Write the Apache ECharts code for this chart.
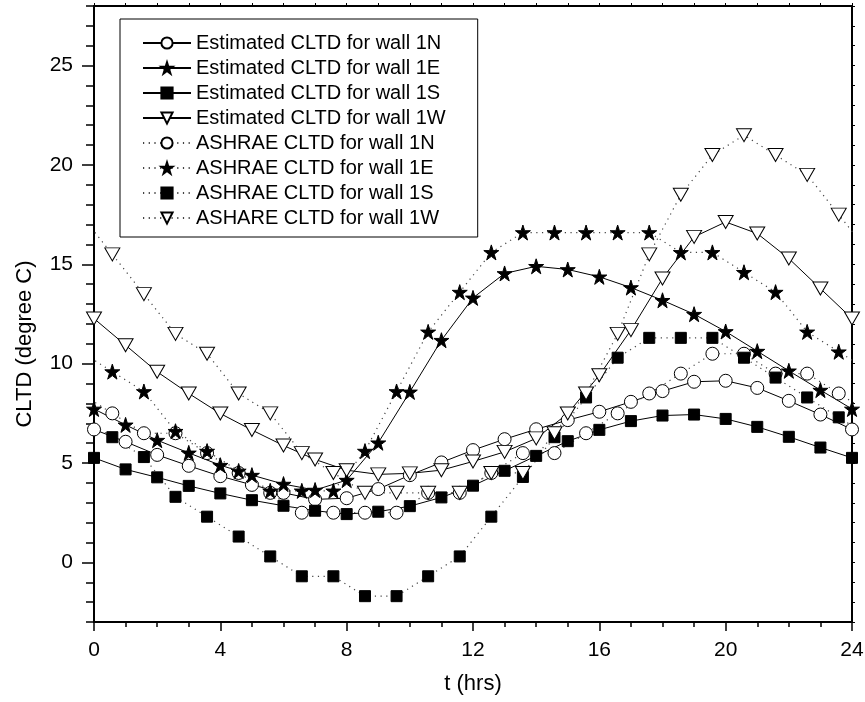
<!DOCTYPE html>
<html><head><meta charset="utf-8">
<script src="https://cdn.jsdelivr.net/npm/echarts@6/dist/echarts.min.js"></script>
<style>html,body{margin:0;padding:0;background:#fff}#c{width:865px;height:702px}</style>
</head><body><div id="c"></div>
<script>
// ---- data ----
const seriesNames = [
  'Estimated CLTD for wall 1N','Estimated CLTD for wall 1E','Estimated CLTD for wall 1S','Estimated CLTD for wall 1W',
  'ASHRAE CLTD for wall 1N','ASHRAE CLTD for wall 1E','ASHRAE CLTD for wall 1S','ASHARE CLTD for wall 1W'
];
const hoursEst = [0,1,2,3,4,5,6,7,8,9,10,11,12,13,14,15,16,17,18,19,20,21,22,23,24];
const est1N = [6.69,6.07,5.41,4.86,4.34,3.90,3.50,3.17,3.23,3.69,4.39,5.03,5.65,6.20,6.70,7.16,7.58,8.08,8.62,9.09,9.14,8.78,8.13,7.44,6.69];
const est1E = [7.72,6.92,6.15,5.51,4.89,4.39,3.94,3.64,4.14,6.02,8.58,11.18,13.31,14.54,14.90,14.74,14.37,13.83,13.19,12.49,11.62,10.63,9.64,8.67,7.72];
const est1S = [5.26,4.68,4.28,3.85,3.47,3.13,2.85,2.60,2.43,2.55,2.83,3.27,3.86,4.61,5.36,6.10,6.67,7.11,7.39,7.44,7.22,6.82,6.32,5.78,5.26];
const est1W = [12.27,10.93,9.59,8.50,7.49,6.66,5.88,5.18,4.64,4.43,4.48,4.64,5.08,5.56,6.24,7.49,9.42,11.69,14.29,16.38,17.13,16.55,15.29,13.78,12.27];

// ASHRAE points (hour 24 of previous day and hour 1 of next day included so the curve reaches the frame)
const hoursAsh = [-0.42,0.58,1.58,2.58,3.58,4.58,5.58,6.58,7.58,8.58,9.58,10.58,11.58,12.58,13.58,14.58,15.58,16.58,17.58,18.58,19.58,20.58,21.58,22.58,23.58,24.58];
const ash1N = [8.5,7.5,6.5,6.5,5.5,4.5,3.5,2.5,2.5,2.5,2.5,3.5,3.5,4.5,5.5,5.5,6.5,7.5,8.5,9.5,10.5,10.5,9.5,9.5,8.5,7.5];
const ash1E = [10.6,9.6,8.6,6.6,5.6,4.6,3.6,3.6,3.6,5.6,8.6,11.6,13.6,15.6,16.6,16.6,16.6,16.6,16.6,15.6,15.6,14.6,13.6,11.6,10.6,9.6];
const ash1S = [7.3,6.3,5.3,3.3,2.3,1.3,0.3,-0.7,-0.7,-1.7,-1.7,-0.7,0.3,2.3,4.3,6.3,8.3,10.3,11.3,11.3,11.3,10.3,9.3,8.3,7.3,6.3];
const ash1W = [17.5,15.5,13.5,11.5,10.5,8.5,7.5,5.5,4.5,3.5,3.5,3.5,3.5,4.5,4.5,6.5,8.5,11.5,15.5,18.5,20.5,21.5,20.5,19.5,17.5,15.5];

const xTicks = [0,4,8,12,16,20,24];
const yTicks = [0,5,10,15,20,25];

// ---- chart ----
const FONT = 'Liberation Sans, Arial, Helvetica, sans-serif';
const STAR = 'path://M50,2 L61.2,36.2 L97.6,36.2 L68.2,57.6 L79.4,92 L50,70.8 L20.6,92 L31.8,57.6 L2.4,36.2 L38.8,36.2 Z';
function pairs(xs, ys){ return xs.map((x,i)=>[x, ys[i]]); }
function mk(name, xs, ys, symbol, size, fill, dotted, rotate){
  return {
    name, type:'line', data: pairs(xs, ys), xAxisIndex:0, yAxisIndex:0,
    symbol, symbolSize:size, symbolRotate: rotate||0, showSymbol:true, showAllSymbol:true, clip:true,
    itemStyle:{color:fill, borderColor:'#000', borderWidth:1, opacity:1},
    lineStyle:{color: dotted ? '#444' : '#000', width: dotted ? 1.2 : 1, type: dotted ? [1.2,4.5] : 'solid'},
    emphasis:{disabled:true}, silent:true, animation:false
  };
}
const chart = echarts.init(document.getElementById('c'), null, {renderer:'canvas'});
chart.setOption({
  animation:false,
  backgroundColor:'#fff',
  textStyle:{fontFamily:FONT},
  grid:{left:94, right:13, top:6, bottom:80, outerBoundsMode:'none', containLabel:false},
  legend:{
    orient:'vertical', left:120, top:19, padding:[14,32,9,22], itemGap:5, itemWidth:48, itemHeight:14,
    borderColor:'#000', borderWidth:1, backgroundColor:'#fff', selectedMode:false,
    textStyle:{fontSize:20, color:'#000', fontFamily:FONT, lineHeight:20},
    data: seriesNames
  },
  xAxis:[
    {type:'value', position:'bottom', min:0, max:24, interval:4,
     axisLine:{show:true, onZero:false, lineStyle:{color:'#000', width:2}},
     axisTick:{show:true, inside:false, length:9, lineStyle:{color:'#000', width:1.5}},
     minorTick:{show:true, splitNumber:4, length:5, lineStyle:{color:'#000', width:1.5}},
     axisLabel:{fontSize:21, color:'#000', margin:18, fontFamily:FONT},
     splitLine:{show:false}, minorSplitLine:{show:false},
     name:'t (hrs)', nameLocation:'middle', nameGap:51,
     nameTextStyle:{fontSize:22, color:'#000', fontFamily:FONT}},
    {type:'value', position:'top', min:0, max:24, interval:1,
     axisLine:{show:true, onZero:false, lineStyle:{color:'#000', width:2}},
     axisTick:{show:true, inside:false, length:3, lineStyle:{color:'#000', width:1}},
     axisLabel:{show:false}, splitLine:{show:false}}
  ],
  yAxis:[
    {type:'value', position:'left', min:-3, max:28,
     axisLine:{show:true, onZero:false, lineStyle:{color:'#000', width:2}},
     axisTick:{show:true, inside:false, length:12, customValues:yTicks, lineStyle:{color:'#000', width:1.5}},
     axisLabel:{fontSize:21, color:'#000', margin:21, customValues:yTicks, fontFamily:FONT},
     splitLine:{show:false}},
    {type:'value', position:'left', min:-3, max:28, interval:1,
     axisLine:{show:false},
     axisTick:{show:true, inside:false, length:8, lineStyle:{color:'#000', width:1.5}},
     axisLabel:{show:false}, splitLine:{show:false}},
    {type:'value', position:'right', min:-3, max:28, interval:1,
     axisLine:{show:true, onZero:false, lineStyle:{color:'#000', width:2}},
     axisTick:{show:true, inside:false, length:3, lineStyle:{color:'#000', width:1}},
     axisLabel:{show:false}, splitLine:{show:false}}
  ],
  graphic:[{type:'text', x:25, y:344, rotation:Math.PI/2,
    style:{text:'CLTD (degree C)', fontSize:22, fontFamily:FONT, fill:'#000', align:'center', verticalAlign:'middle'}}],
  series:[
    mk(seriesNames[0], hoursEst, est1N, 'circle', 13, '#fff', false),
    mk(seriesNames[1], hoursEst, est1E, STAR, 15, '#000', false),
    mk(seriesNames[2], hoursEst, est1S, 'rect', 11, '#000', false),
    mk(seriesNames[3], hoursEst, est1W, 'triangle', [15,13], '#fff', false, 180),
    mk(seriesNames[4], hoursAsh, ash1N, 'circle', 13, '#fff', true),
    mk(seriesNames[5], hoursAsh, ash1E, STAR, 15, '#000', true),
    mk(seriesNames[6], hoursAsh, ash1S, 'rect', 11, '#000', true),
    mk(seriesNames[7], hoursAsh, ash1W, 'triangle', [15,13], '#fff', true, 180)
  ]
});
</script></body></html>
